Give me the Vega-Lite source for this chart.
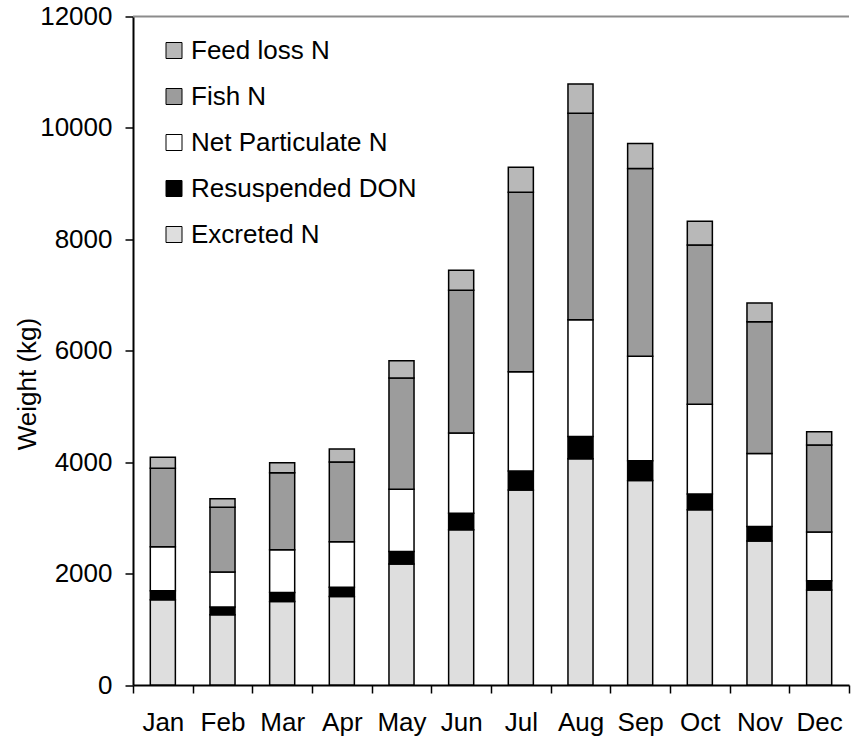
{
  "$schema": "https://vega.github.io/schema/vega-lite/v6.json",
  "width": 716,
  "height": 668.5,
  "autosize": {"type": "none"},
  "padding": {"left": 133, "top": 16.5, "right": 3, "bottom": 58},
  "background": "white",
  "config": {
    "font": "Liberation Sans",
    "view": {"stroke": null},
    "axis": {"grid": false, "labelFont": "Liberation Sans", "titleFont": "Liberation Sans", "labelColor": "black", "titleColor": "black", "domainColor": "black", "tickColor": "black"}
  },
  "datasets": {
    "n": [
      {"month": "Jan", "series": "Excreted N", "o": 1, "value": 1530},
      {"month": "Jan", "series": "Resuspended DON", "o": 2, "value": 160},
      {"month": "Jan", "series": "Net Particulate N", "o": 3, "value": 790},
      {"month": "Jan", "series": "Fish N", "o": 4, "value": 1410},
      {"month": "Jan", "series": "Feed loss N", "o": 5, "value": 200},
      {"month": "Feb", "series": "Excreted N", "o": 1, "value": 1260},
      {"month": "Feb", "series": "Resuspended DON", "o": 2, "value": 140},
      {"month": "Feb", "series": "Net Particulate N", "o": 3, "value": 630},
      {"month": "Feb", "series": "Fish N", "o": 4, "value": 1160},
      {"month": "Feb", "series": "Feed loss N", "o": 5, "value": 155},
      {"month": "Mar", "series": "Excreted N", "o": 1, "value": 1500},
      {"month": "Mar", "series": "Resuspended DON", "o": 2, "value": 160},
      {"month": "Mar", "series": "Net Particulate N", "o": 3, "value": 770},
      {"month": "Mar", "series": "Fish N", "o": 4, "value": 1380},
      {"month": "Mar", "series": "Feed loss N", "o": 5, "value": 180},
      {"month": "Apr", "series": "Excreted N", "o": 1, "value": 1590},
      {"month": "Apr", "series": "Resuspended DON", "o": 2, "value": 165},
      {"month": "Apr", "series": "Net Particulate N", "o": 3, "value": 815},
      {"month": "Apr", "series": "Fish N", "o": 4, "value": 1435},
      {"month": "Apr", "series": "Feed loss N", "o": 5, "value": 230},
      {"month": "May", "series": "Excreted N", "o": 1, "value": 2170},
      {"month": "May", "series": "Resuspended DON", "o": 2, "value": 225},
      {"month": "May", "series": "Net Particulate N", "o": 3, "value": 1120},
      {"month": "May", "series": "Fish N", "o": 4, "value": 1995},
      {"month": "May", "series": "Feed loss N", "o": 5, "value": 310},
      {"month": "Jun", "series": "Excreted N", "o": 1, "value": 2785},
      {"month": "Jun", "series": "Resuspended DON", "o": 2, "value": 300},
      {"month": "Jun", "series": "Net Particulate N", "o": 3, "value": 1440},
      {"month": "Jun", "series": "Fish N", "o": 4, "value": 2560},
      {"month": "Jun", "series": "Feed loss N", "o": 5, "value": 360},
      {"month": "Jul", "series": "Excreted N", "o": 1, "value": 3500},
      {"month": "Jul", "series": "Resuspended DON", "o": 2, "value": 340},
      {"month": "Jul", "series": "Net Particulate N", "o": 3, "value": 1785},
      {"month": "Jul", "series": "Fish N", "o": 4, "value": 3220},
      {"month": "Jul", "series": "Feed loss N", "o": 5, "value": 450},
      {"month": "Aug", "series": "Excreted N", "o": 1, "value": 4060},
      {"month": "Aug", "series": "Resuspended DON", "o": 2, "value": 400},
      {"month": "Aug", "series": "Net Particulate N", "o": 3, "value": 2095},
      {"month": "Aug", "series": "Fish N", "o": 4, "value": 3710},
      {"month": "Aug", "series": "Feed loss N", "o": 5, "value": 525},
      {"month": "Sep", "series": "Excreted N", "o": 1, "value": 3670},
      {"month": "Sep", "series": "Resuspended DON", "o": 2, "value": 355},
      {"month": "Sep", "series": "Net Particulate N", "o": 3, "value": 1875},
      {"month": "Sep", "series": "Fish N", "o": 4, "value": 3370},
      {"month": "Sep", "series": "Feed loss N", "o": 5, "value": 450},
      {"month": "Oct", "series": "Excreted N", "o": 1, "value": 3145},
      {"month": "Oct", "series": "Resuspended DON", "o": 2, "value": 285},
      {"month": "Oct", "series": "Net Particulate N", "o": 3, "value": 1610},
      {"month": "Oct", "series": "Fish N", "o": 4, "value": 2860},
      {"month": "Oct", "series": "Feed loss N", "o": 5, "value": 425},
      {"month": "Nov", "series": "Excreted N", "o": 1, "value": 2585},
      {"month": "Nov", "series": "Resuspended DON", "o": 2, "value": 260},
      {"month": "Nov", "series": "Net Particulate N", "o": 3, "value": 1310},
      {"month": "Nov", "series": "Fish N", "o": 4, "value": 2365},
      {"month": "Nov", "series": "Feed loss N", "o": 5, "value": 335},
      {"month": "Dec", "series": "Excreted N", "o": 1, "value": 1705},
      {"month": "Dec", "series": "Resuspended DON", "o": 2, "value": 165},
      {"month": "Dec", "series": "Net Particulate N", "o": 3, "value": 875},
      {"month": "Dec", "series": "Fish N", "o": 4, "value": 1565},
      {"month": "Dec", "series": "Feed loss N", "o": 5, "value": 235}
    ],
    "frame": [{"top": 12000}]
  },
  "layer": [
    {
      "data": {"name": "n"},
      "mark": {"type": "bar", "stroke": "black", "strokeWidth": 1.5, "width": {"band": 0.42}},
      "encoding": {
        "x": {
          "field": "month", "type": "nominal",
          "sort": ["Jan","Feb","Mar","Apr","May","Jun","Jul","Aug","Sep","Oct","Nov","Dec"],
          "scale": {"paddingInner": 0, "paddingOuter": 0},
          "axis": {"title": null, "labelAngle": 0, "labelFontSize": 26, "labelPadding": 16, "tickSize": 8, "tickWidth": 1.5, "domainWidth": 2, "tickBand": "extent"}
        },
        "y": {
          "field": "value", "type": "quantitative", "stack": "zero",
          "scale": {"domain": [0, 12000], "nice": false},
          "axis": {"values": [0,2000,4000,6000,8000,10000,12000], "format": "d", "title": "Weight (kg)", "titleFontSize": 26, "titleFontWeight": "normal", "titleX": -106, "titleY": 367, "titleBaseline": "middle", "titleAlign": "center", "titleAngle": -90, "labelFontSize": 26, "labelPadding": 13, "tickSize": 8, "tickWidth": 1.5, "domainWidth": 2}
        },
        "fill": {
          "field": "series", "type": "nominal",
          "scale": {
            "domain": ["Feed loss N", "Fish N", "Net Particulate N", "Resuspended DON", "Excreted N"],
            "range": ["#b8b8b8", "#9c9c9c", "#ffffff", "#000000", "#dedede"]
          },
          "legend": {
            "title": null, "orient": "none", "legendX": 28, "legendY": 21,
            "labelFontSize": 26, "labelFont": "Liberation Sans", "labelColor": "black", "labelLimit": 400,
            "symbolType": "square", "symbolSize": 256, "symbolStrokeColor": "black", "symbolStrokeWidth": 1,
            "rowPadding": 20, "labelOffset": 4, "symbolOpacity": 1
          }
        },
        "order": {"field": "o", "type": "quantitative"}
      }
    },
    {
      "data": {"name": "frame"},
      "mark": {"type": "rule", "color": "#8c8c8c", "strokeWidth": 2},
      "encoding": {"y": {"field": "top", "type": "quantitative"}}
    }
  ]
}
